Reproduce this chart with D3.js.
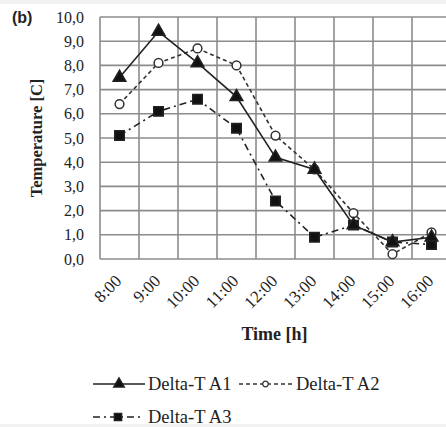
<!DOCTYPE html>
<html>
<head>
<meta charset="utf-8">
<script src="https://cdn.jsdelivr.net/npm/d3@7"></script>
<style>
  body { margin: 0; background: #fff; }
  svg { display: block; }
</style>
</head>
<body>
<div id="chart"></div>
<script>
var hours = ['8:00', '9:00', '10:00', '11:00', '12:00', '13:00', '14:00', '15:00', '16:00'];
var deltaA1 = [7.5, 9.4, 8.1, 6.7, 4.2, 3.7, 1.4, 0.7, 0.9];
var deltaA2 = [6.4, 8.1, 8.7, 8.0, 5.1, 3.7, 1.9, 0.2, 1.1];
var deltaA3 = [5.1, 6.1, 6.6, 5.4, 2.4, 0.9, 1.4, 0.7, 0.6];
var yTicks = [0, 1, 2, 3, 4, 5, 6, 7, 8, 9, 10];

var width = 446, height = 427,
    margin = { top: 17, left: 100, bottom: 259 };
var plotRight = 451;

var svg = d3.select('#chart').append('svg')
    .attr('width', width)
    .attr('height', height);

var serif = '"Liberation Serif", "Times New Roman", serif';

svg.append('rect').attr('x', 0).attr('y', 0).attr('width', width).attr('height', 4).attr('fill', '#f2f2f2');

var x = d3.scaleBand().domain(hours).range([margin.left, plotRight]);
var y = d3.scaleLinear().domain([0, 10]).range([margin.bottom, margin.top]);

// grid
var grid = svg.append('g').attr('stroke', '#8c8c8c').attr('stroke-width', 1.6);
grid.selectAll('line.h').data(yTicks).enter().append('line')
    .attr('x1', margin.left).attr('x2', plotRight)
    .attr('y1', d => y(d)).attr('y2', d => y(d));
var vx = hours.map(h => x(h)).concat([plotRight]);
grid.selectAll('line.v').data(vx).enter().append('line')
    .attr('x1', d => d).attr('x2', d => d)
    .attr('y1', margin.top).attr('y2', margin.bottom);

// y tick labels
svg.append('g').selectAll('text').data(yTicks).enter().append('text')
    .attr('x', 84).attr('y', d => y(d))
    .attr('dy', '0.35em')
    .attr('text-anchor', 'end')
    .attr('font-family', serif).attr('font-size', 16).attr('fill', '#222')
    .text(d => d.toFixed(1).replace('.', ','));

// x tick labels
svg.append('g').selectAll('text').data(hours).enter().append('text')
    .attr('text-anchor', 'end')
    .attr('transform', d => 'translate(' + (x(d) + x.bandwidth() / 2 + 3) + ',' + (margin.bottom + 23) + ') rotate(-45)')
    .attr('font-family', serif).attr('font-size', 17).attr('fill', '#222')
    .text(d => d);

svg.append('text')
    .attr('x', (margin.left + plotRight) / 2 - 1).attr('y', 340)
    .attr('text-anchor', 'middle')
    .attr('font-family', serif).attr('font-size', 18).attr('font-weight', 'bold').attr('fill', '#222')
    .text('Time [h]');

svg.append('text')
    .attr('transform', 'translate(42,' + ((margin.top + margin.bottom) / 2) + ') rotate(-90)')
    .attr('text-anchor', 'middle')
    .attr('font-family', serif).attr('font-size', 16.5).attr('font-weight', 'bold').attr('fill', '#222')
    .text('Temperature [C]');

svg.append('text')
    .attr('x', 12).attr('y', 23)
    .attr('font-family', '"Liberation Sans", Arial, sans-serif').attr('font-size', 16).attr('font-weight', 'bold').attr('fill', '#222')
    .text('(b)');

var series = [
    { name: 'Delta-T A1', values: deltaA1, dash: null, symbol: d3.symbolTriangle, size: 70, fill: '#111', color: '#222' },
    { name: 'Delta-T A2', values: deltaA2, dash: '4,3', symbol: d3.symbolCircle, size: 60, fill: '#fff', color: '#333' },
    { name: 'Delta-T A3', values: deltaA3, dash: '7,4,2,4', symbol: d3.symbolSquare, size: 90, fill: '#111', color: '#222' }
];

var cx = d => x(d) + x.bandwidth() / 2;
var line = d3.line().x(d => cx(d.h)).y(d => y(d.v));

// draw A3 first, then A2, then A1 on top
[series[2], series[1], series[0]].forEach(function(s) {
    var pts = hours.map((h, i) => ({ h: h, v: s.values[i] }));
    svg.append('path').datum(pts)
        .attr('d', line)
        .attr('fill', 'none')
        .attr('stroke', s.color)
        .attr('stroke-width', 1.6)
        .attr('stroke-dasharray', s.dash);
    svg.append('g').selectAll('path').data(pts).enter().append('path')
        .attr('d', d3.symbol().type(s.symbol).size(s.size))
        .attr('transform', d => 'translate(' + cx(d.h) + ',' + y(d.v) + ')')
        .attr('fill', s.fill)
        .attr('stroke', s.color)
        .attr('stroke-width', 1.5);
});

// legend
var legendPos = [[93, 384, 52, 55], [239, 384, 53, 57], [93, 417, 50, 55]];
var legendSize = [50, 25, 55];
series.forEach(function(s, i) {
    var p = legendPos[i];
    var g = svg.append('g').attr('transform', 'translate(' + p[0] + ',' + p[1] + ')');
    g.append('line').attr('x1', 0).attr('x2', p[2]).attr('y1', 0).attr('y2', 0)
        .attr('stroke', s.color).attr('stroke-width', 1.6)
        .attr('stroke-dasharray', s.dash);
    g.append('path')
        .attr('d', d3.symbol().type(s.symbol).size(legendSize[i]))
        .attr('transform', 'translate(' + (p[2] / 2) + ',0)')
        .attr('fill', s.fill).attr('stroke', s.color).attr('stroke-width', 1.3);
    g.append('text').attr('x', p[3]).attr('y', 0).attr('dy', '0.35em')
        .attr('font-family', serif).attr('font-size', 18.5).attr('fill', '#222')
        .text(s.name);
});

svg.append('rect').attr('x', 0).attr('y', 424).attr('width', width).attr('height', 3).attr('fill', '#f2f2f2');
</script>
</body>
</html>
